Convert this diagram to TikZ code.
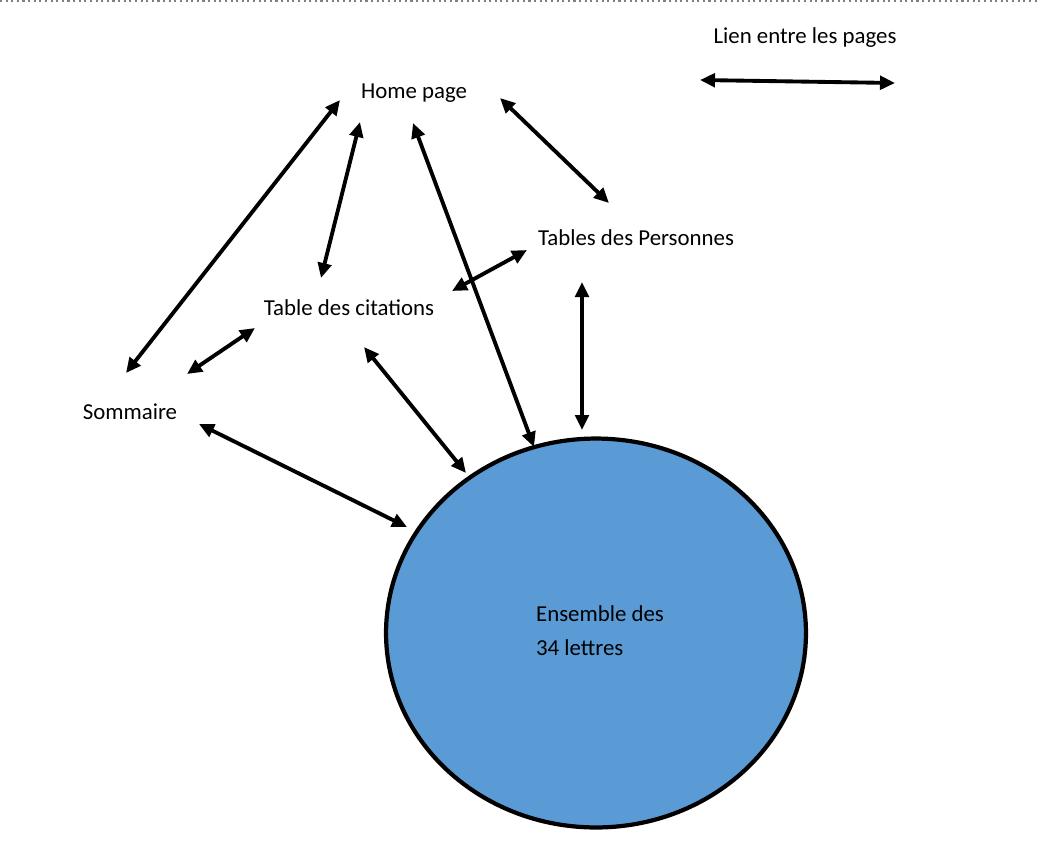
\documentclass[tikz,border=0pt]{standalone}
\usepackage{fontspec}
\setmainfont{Carlito}
\usepackage{xcolor}
\usetikzlibrary{arrows.meta,shapes.geometric}
\definecolor{lettresblue}{HTML}{5B9BD5}

\begin{document}
\begin{tikzpicture}[
  x=0.02cm, y=-0.02cm,
  page/.style={inner sep=0pt, font=\fontsize{13}{16}\selectfont},
  link/.style={{Triangle[length=0.3cm,width=0.27cm]}-{Triangle[length=0.3cm,width=0.27cm]}, line width=2.2pt},
  font=\fontsize{13}{16}\selectfont
]
\useasboundingbox (0,0) rectangle (1038,843);
\draw[gray, dotted, line width=1.2pt] (0,1) -- (1038,1);

\node[page] (legend) at (805,38) {Lien entre les pages};
\node[page] (home) at (414,93) {Home page};
\node[page] (pers) at (636,238) {Tables des Personnes};
\node[page] (cit) at (349,308) {Table des citations};
\node[page] (somm) at (130,412) {Sommaire};
\node[ellipse, draw, line width=2.4pt, fill=lettresblue, minimum width=8.4cm, minimum height=7.78cm] (lettres) at (596,633) {};
\node[page, align=left, font=\fontsize{13}{19.5}\selectfont] (texte) at (600,631) {Ensemble des\\34 lettres};

\draw[link] ([shift={(-105,42)}]legend.center) -- ([shift={(90,45)}]legend.center);

\draw[link] ([shift={(-74,7)}]home.center) -- ([shift={(-4,-39)}]somm.center);
\draw[link] ([shift={(-54,29)}]home.center) -- ([shift={(-28,-30)}]cit.center);
\draw[link] ([shift={(-1,30)}]home.center) -- ([shift={(-62,-186)}]lettres.center);
\draw[link] ([shift={(86,5)}]home.center) -- ([shift={(-27,-35)}]pers.center);
\draw[link] ([shift={(-109,12)}]pers.center) -- ([shift={(103,-17)}]cit.center);
\draw[link] ([shift={(-54,44)}]pers.center) -- ([shift={(-14,-203)}]lettres.center);
\draw[link] ([shift={(-94,20)}]cit.center) -- ([shift={(57,-38)}]somm.center);
\draw[link] ([shift={(15,39)}]cit.center) -- ([shift={(-130,-160)}]lettres.center);
\draw[link] ([shift={(69,12)}]somm.center) -- ([shift={(-189,-106)}]lettres.center);
\end{tikzpicture}
\end{document}
